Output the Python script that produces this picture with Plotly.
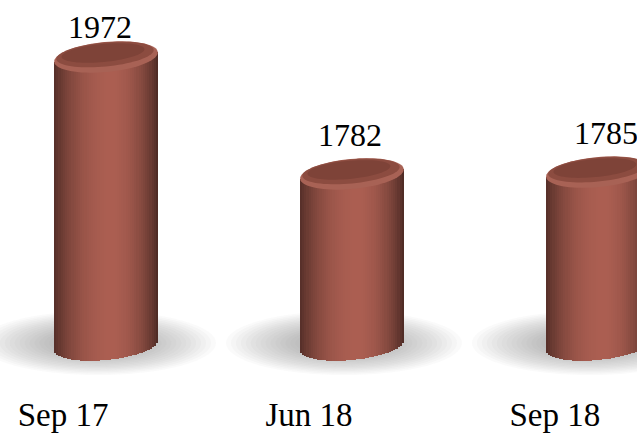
import math
import plotly.graph_objects as go

# ---- data ----
categories = ["Sep 17", "Jun 18", "Sep 18"]
values = [1972, 1782, 1785]
value_labels = ["1972", "1782", "1785"]

# ---- layout / style constants ----
W_PX, H_PX = 637, 434
MB = 50
PLOT_H = H_PX - MB
BASE = 1504.0
Y_RANGE = [1440.7, 2064.6]
X_RANGE = [-0.431, 2.159]
PXX = W_PX / (X_RANGE[1] - X_RANGE[0])          # px per x unit
PXY = PLOT_H / (Y_RANGE[1] - Y_RANGE[0])         # px per y unit
BAR_W = 104 / PXX
A_PX, B_PX = 52.0, 15.0
TILT = 0.095
FONT = "Liberation Serif"
LABEL_XSHIFT = [-6, -2, 8]   # perspective offsets of value labels (px)
LABEL_YSHIFT = [30, 39, 39]

fig = go.Figure()

# cylinder side made of vertical strips
N = 48
def shade(t):
    th = math.asin(max(-1, min(1, t)))
    c = max(0.0, math.cos(th - 0.12))
    return 0.5 + 0.5 * c ** 1.5

base_rgb = (172, 95, 82)
for k in range(N):
    t0 = -1 + 2 * k / N
    t1 = -1 + 2 * (k + 1) / N
    tm = (t0 + t1) / 2
    f = shade(tm)
    if tm > 0:
        f *= 1 - 0.22 * tm ** 2
    col = "rgb(%d,%d,%d)" % tuple(int(c * f) for c in base_rgb)
    dx = tm * A_PX
    bot_px = dx * math.tan(TILT) - B_PX * math.sqrt(max(0, 1 - tm * tm))
    top_px = dx * math.tan(TILT)
    bases = [BASE + bot_px / PXY for _ in values]
    heights = [v + top_px / PXY - b for v, b in zip(values, bases)]
    fig.add_trace(go.Bar(
        x=list(range(len(categories))), y=heights, base=bases,
        width=BAR_W / N * 1.08, offset=-BAR_W / 2 + k * BAR_W / N,
        marker=dict(color=col, line=dict(width=0)),
        hoverinfo="skip", showlegend=False))

def ellipse_path(xc, yc, a, b, alpha, yshift_px=0):
    pts = []
    for i in range(73):
        p = 2 * math.pi * i / 72
        dx = a * math.cos(p) * math.cos(alpha) - b * math.sin(p) * math.sin(alpha)
        dy = a * math.cos(p) * math.sin(alpha) + b * math.sin(p) * math.cos(alpha) + yshift_px
        pts.append((xc + dx / PXX, yc + dy / PXY))
    return "M " + " L ".join("%.5f,%.3f" % p for p in pts) + " Z"

shapes = []
# soft shadows
NS = 22
for i, v in enumerate(values):
    for s in range(NS):
        sc = 1 - s * 0.042
        shapes.append(dict(type="path", xref="x", yref="y", layer="below",
                           path=ellipse_path(i - 8 / PXX, BASE, 118 * sc, 32 * sc, 0.0, 2),
                           fillcolor="rgba(110,110,110,0.035)", line=dict(width=0)))
# top faces
for i, v in enumerate(values):
    shapes.append(dict(type="path", xref="x", yref="y", layer="above",
                       path=ellipse_path(i, v, A_PX, B_PX, TILT),
                       fillcolor="rgb(168,98,85)", line=dict(width=0)))
    shapes.append(dict(type="path", xref="x", yref="y", layer="above",
                       path=ellipse_path(i - 1 / PXX, v, A_PX * 0.94, B_PX * 0.8, TILT, 2.5),
                       fillcolor="rgb(140,76,64)", line=dict(width=0)))
    shapes.append(dict(type="path", xref="x", yref="y", layer="above",
                       path=ellipse_path(i - 3 / PXX, v, A_PX * 0.8, B_PX * 0.6, TILT, 4),
                       fillcolor="rgb(126,67,56)", line=dict(width=0)))

annotations = []
for i, (v, lab) in enumerate(zip(values, value_labels)):
    annotations.append(dict(x=i, y=v, xref="x", yref="y", text=lab, showarrow=False,
                            yshift=LABEL_YSHIFT[i], xshift=LABEL_XSHIFT[i],
                            font=dict(family=FONT, size=32, color="black")))

fig.update_layout(
    width=W_PX, height=H_PX,
    margin=dict(l=0, r=0, t=0, b=MB, autoexpand=False),
    paper_bgcolor="white", plot_bgcolor="white",
    barmode="overlay", bargap=0,
    shapes=shapes, annotations=annotations,
    xaxis=dict(range=X_RANGE, tickvals=list(range(len(categories))), ticktext=categories,
               showgrid=False, zeroline=False, showline=False, automargin=False,
               ticks="outside", ticklen=1, tickcolor="rgba(0,0,0,0)",
               ticklabelshift=-43,
               tickfont=dict(family=FONT, size=33, color="black")),
    yaxis=dict(range=Y_RANGE, visible=False, showgrid=False, zeroline=False, automargin=False),
    showlegend=False,
)
fig.write_html("out.html", config={"displayModeBar": False},
               post_script="document.body.style.margin='0px';")
